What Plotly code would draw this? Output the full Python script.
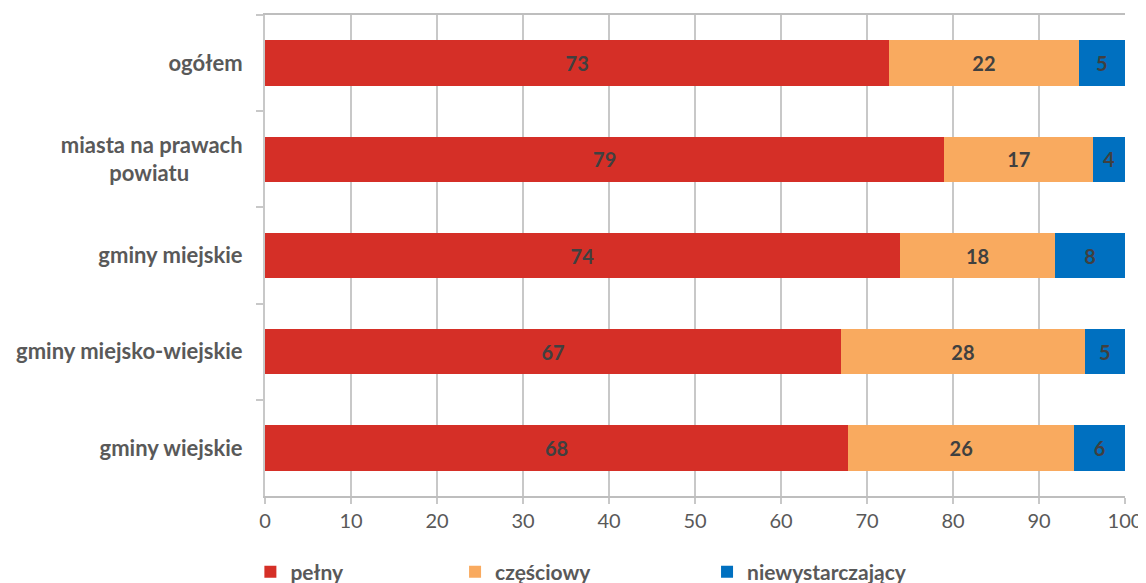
import plotly.graph_objects as go

NB = "\u00a0"
categories = ["ogółem", "miasta na prawach<br>powiatu" + NB * 10, "gminy miejskie",
              "gminy miejsko-wiejskie", "gminy wiejskie"]
pelny = [72.6, 79.0, 73.8, 67.0, 67.8]
czesciowy = [22.0, 17.3, 18.1, 28.3, 26.3]
niewystarczajacy = [5.4, 3.7, 8.1, 4.7, 5.9]
pelny_labels = ["73", "79", "74", "67", "68"]
czesciowy_labels = ["22", "17", "18", "28", "26"]
niewyst_labels = ["5", "4", "8", "5", "6"]
x_ticks = [0, 10, 20, 30, 40, 50, 60, 70, 80, 90, 100]

FONT = "Lato"
series = [
    ("pełny", pelny, pelny_labels, "#D52F27", "legend"),
    ("częściowy", czesciowy, czesciowy_labels, "#F9AA5F", "legend2"),
    ("niewystarczający", niewystarczajacy, niewyst_labels, "#0070C0", "legend3"),
]

fig = go.Figure()
for name, vals, labs, color, lg in series:
    fig.add_trace(go.Bar(
        y=categories, x=vals, orientation="h", name=name,
        marker=dict(color=color, line=dict(width=0)),
        text=labs, texttemplate="%{text}", textposition="inside",
        insidetextanchor="middle", textangle=0, constraintext="none",
        textfont=dict(family=FONT, size=20, color="#404040", weight="bold"),
        legend=lg,
    ))

leg_common = dict(orientation="h", yref="paper", y=-0.158, yanchor="middle",
                  xanchor="left", bgcolor="rgba(0,0,0,0)",
                  font=dict(family=FONT, size=21, color="#595959", weight="bold"),
                  itemwidth=30)
fig.update_layout(
    barmode="stack",
    bargap=0.53,
    width=1138, height=575,
    margin=dict(l=257, r=21, t=7, b=87, autoexpand=False),
    paper_bgcolor="white", plot_bgcolor="white",
    font=dict(family=FONT, color="#595959"),
    showlegend=True,
    legend=dict(x=-0.017, **leg_common),
    legend2=dict(x=0.221, **leg_common),
    legend3=dict(x=0.514, **leg_common),
    xaxis=dict(range=[0, 100], tickvals=x_ticks, showgrid=True,
               gridcolor="#C8C8C8", gridwidth=2, zeroline=False,
               showline=True, linecolor="#BEBEBE", linewidth=2, mirror=True,
               ticks="outside", ticklen=6, tickcolor="#C8C8C8", tickwidth=2,
               automargin=False,
               tickfont=dict(family=FONT, size=20, color="#595959")),
    yaxis=dict(autorange="reversed", showgrid=False, zeroline=False,
               showline=True, linecolor="#C8C8C8", linewidth=2,
               ticks="outside", ticklen=7, tickcolor="#C8C8C8", tickwidth=2,
               tickson="boundaries", ticklabelstandoff=16, automargin=False,
               tickfont=dict(family=FONT, size=22, color="#595959", weight="bold")),
)

fig.write_html("out.html")
